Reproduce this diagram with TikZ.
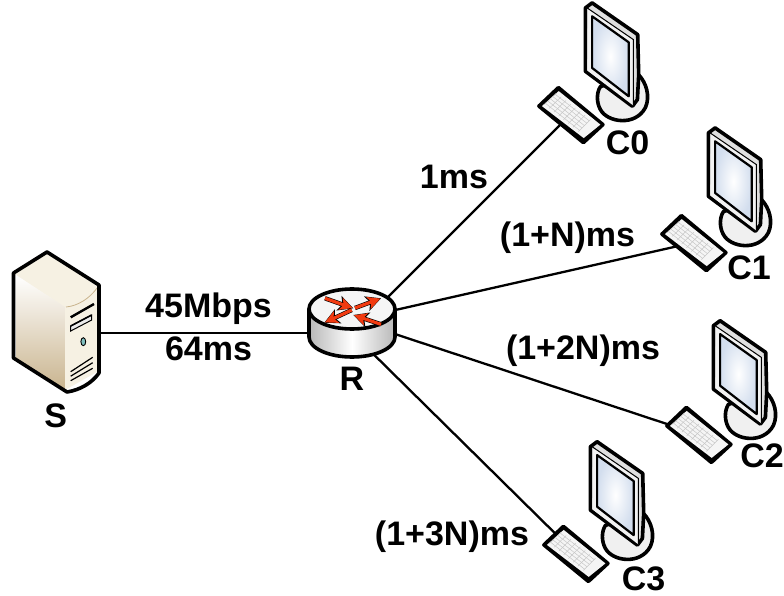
\documentclass[tikz,border=0pt]{standalone}
\usepackage{fontspec}
\setmainfont{Liberation Sans}
\usepackage{xcolor}
\usepackage{tikz}
\usetikzlibrary{arrows.meta,positioning,calc}
\definecolor{screenblue}{HTML}{D3DEEE}
\definecolor{servertan}{HTML}{C9B48E}
\definecolor{servercream}{HTML}{F6F1E3}
\definecolor{routerred}{HTML}{F23A10}
\tikzset{
  lbl/.style={inner sep=0pt, anchor=base, font=\fontsize{34}{36}\selectfont\bfseries},
  devlbl/.style={inner sep=0pt, font=\fontsize{34}{36}\selectfont\bfseries},
  link/.style={line width=2.3pt, color=black},
  outline/.style={draw=black, line width=3.6pt, line join=round},
  pcspot/.style={inner sep=0pt, minimum size=0pt},
  monitor/.pic={
    \begin{scope}[shift={(-570,-115)}]
      % stand
      \draw[outline, fill=white!94!black] (600,87) .. controls (596,93) and (596,103) .. (600,110) .. controls (607,123) and (635,127) .. (645,108) .. controls (650,97) and (646,83) .. (638,75) -- cycle;
      % screen
      \draw[outline, fill=white!88!black] (585,8.3) -- (591.7,3.3) -- (637.3,35) -- (638.3,75) -- (637,100) -- (632,106.7) -- (585,71.7) -- cycle;
      \fill[white!95!black] (587.5,9.5) -- (633,40) -- (633,106) -- (587,71) -- cycle;
      \draw[line width=1pt] (587,8.5) -- (633,40) -- (633,106);
      \draw[line width=2.2pt, inner color=white, outer color=screenblue, line join=round] (591.7,16.7) -- (628.3,42.7) -- (628.3,96.7) -- (591.7,68.3) -- cycle;
    \end{scope}
  },
  keyboard/.pic={
    \begin{scope}[shift={(-570,-115)}]
      \draw[outline, fill=black] (558,88) -- (538.5,106.5) -- (583,143) -- (602.5,125) -- cycle;
      \fill[white!96!black] (558.3,91.5) -- (541.5,106.5) -- (583.3,138.5) -- (600,125) -- cycle;
      \foreach \t in {0.1,0.3,0.5,0.7,0.9}
        \draw[gray!45, line width=.5pt] ($(556,93.5)!\t!(544,105)$) -- ($(590,120)!\t!(578,132)$);
      \foreach \t in {0,0.14,0.28,0.42,0.56,0.7,0.84,1}
        \draw[gray!45, line width=.5pt] ($(556,93.5)!\t!(590,120)$) -- ($(544,105)!\t!(578,132)$);
    \end{scope}
  }
}
\begin{document}
\begin{tikzpicture}[x=1pt,y=-1pt]
\useasboundingbox (0,0) rectangle (784,596);
\node[inner sep=0pt, minimum width=88pt, minimum height=26pt] (r) at (352,333) {};
\node[inner sep=0pt, minimum width=86pt, minimum height=110pt, left=209pt of r] (s) {};
\node[pcspot, above right=205pt and 174pt of r] (c0) {};
\node[pcspot, above right=77pt and 297pt of r] (c1) {};
\node[pcspot, below right=88pt and 302pt of r] (c2) {};
\node[pcspot, below right=207pt and 179pt of r] (c3) {};
\draw[link] (s.east) -- (r.west);
\draw[link] (r.center) -- (c0);
\draw[link] (r.north) -- (c1);
\draw[link] (r.north) -- (c2);
\draw[link] (r.center) -- (c3);
% server
\fill[servercream] (47,253) -- (14,274) -- (66,308) -- (98,287) -- cycle;
\shade[top color=white, bottom color=servertan] (16,275) -- (65,307) -- (65,390) -- (16,358) -- cycle;
\fill[servercream] (65,307) -- (97,288) -- (97,372) -- (65,390) -- cycle;
\draw[servertan, line width=.8pt] (66,307) .. controls (78,306) and (90,298) .. (97,288);
\draw[outline] (47,252) -- (13.5,273) -- (13.5,358) -- (67,392) .. controls (80,390) and (92,383) .. (99,373) -- (99,285) -- cycle;
\draw[line width=2.4pt] (70.7,317.3) -- (94,304);
\draw[fill=white!92!black, line width=1pt] (70.7,326) -- (91.7,315) -- (91.7,320) -- (70.7,331) -- cycle;
\draw[line width=1.6pt] (70.7,326) -- (91.7,315);
\draw[fill=teal!50, line width=.9pt] (83.3,341.7) ellipse (2.4 and 4);
\foreach \yl/\yr in {371.7/357.3,376.2/362.7,380.7/368.3}
  \draw[line width=1.2pt] (70.7,\yl) -- (92.7,\yr);
% router
\draw[outline, left color=white!72!black, right color=white!72!black, middle color=white] (309,309) -- (309,337) arc[start angle=180, end angle=0, x radius=43, y radius=20] -- (395,309) -- cycle;
\draw[outline, fill=white!96!black] (352,309) ellipse (43 and 20);
\foreach \xa/\ya/\xb/\yb in {325/298.3/353.3/308.3,355/308/381/298.3,351.7/310/324.3/322.7,381/324.3/353.3/315} {
  \draw[-{Stealth[length=15pt,width=15pt,inset=3.5pt]}, line width=4.4pt] (\xa,\ya) -- (\xb,\yb);
  \draw[-{Stealth[length=12.5pt,width=12.5pt,inset=3pt]}, line width=3.2pt, routerred, shorten >=.8pt] (\xa,\ya) -- (\xb,\yb);
}
% computers
\pic at (c0) {monitor};
\pic at (c0) {keyboard};
\pic at ($(c1)+(0,-3)$) {monitor};
\pic at (c1) {keyboard};
\pic at ($(c2)+(0,-2)$) {monitor};
\pic at (c2) {keyboard};
\pic at (c3) {monitor};
\pic at (c3) {keyboard};
% labels
\node[devlbl, below=15pt of s] (slbl) {S};
\node[devlbl, below=21pt of r] (rlbl) {R};
\node[devlbl] (c0lbl) at (627.5,143) {C0};
\node[devlbl] (c1lbl) at (749,268) {C1};
\node[devlbl] (c2lbl) at (762,456) {C2};
\node[devlbl] (c3lbl) at (643.5,579) {C3};
\node[lbl] (bw) at (208.5,317) {45Mbps};
\node[lbl] (dl) at (208.5,360) {64ms};
\node[lbl] (l0) at (454,189) {1ms};
\node[lbl] (l1) at (567.5,246) {(1+N)ms};
\node[lbl] (l2) at (583,359) {(1+2N)ms};
\node[lbl] (l3) at (452,545) {(1+3N)ms};
\end{tikzpicture}
\end{document}
